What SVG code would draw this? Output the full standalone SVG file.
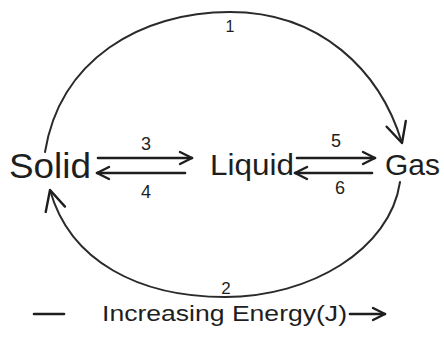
<svg xmlns="http://www.w3.org/2000/svg" width="444" height="353" viewBox="0 0 444 353">
<style>
.t{font-family:"Liberation Sans",Arial,sans-serif;fill:#1e1e1e}
.ln{fill:none;stroke:#2a2a2a;stroke-width:2;stroke-linecap:round}
.ar{fill:none;stroke:#1e1e1e;stroke-width:2.6;stroke-linecap:round}
</style>
<defs>
<marker id="v" viewBox="0 0 16 16" refX="14" refY="8" markerWidth="16" markerHeight="16" markerUnits="userSpaceOnUse" orient="auto">
<path d="M2,2 L14,8 L2,14" fill="none" stroke="#1e1e1e" stroke-width="2.4" stroke-linecap="round" stroke-linejoin="round"/>
</marker>
<marker id="vb" viewBox="0 0 24 24" refX="22" refY="12" markerWidth="24" markerHeight="24" markerUnits="userSpaceOnUse" orient="auto">
<path d="M2,2 L22,12 L2,22" fill="none" stroke="#1e1e1e" stroke-width="2.4" stroke-linecap="round" stroke-linejoin="round"/>
</marker>
</defs>
<rect width="444" height="353" fill="#fff"/>
<g id="connectors">
<path class="ln" d="M45,152 C60,60 140,12 230,12 C320,12 380,70 402,143" marker-end="url(#vb)"/>
<text class="t" x="230" y="32" font-size="16" text-anchor="middle">1</text>
<path class="ln" d="M400,182 C390,250 310,297 225,297 C140,297 70,262 50,190" marker-end="url(#vb)"/>
<text class="t" x="226" y="294" font-size="17" text-anchor="middle">2</text>
<path class="ar" d="M98,158 L192,158" marker-end="url(#v)"/>
<text class="t" x="146" y="150" font-size="18" text-anchor="middle">3</text>
<path class="ar" d="M185,173 L97,173" marker-end="url(#v)"/>
<text class="t" x="146" y="198" font-size="18" text-anchor="middle">4</text>
<path class="ar" d="M297,158 L375,158" marker-end="url(#v)"/>
<text class="t" x="336" y="147" font-size="18" text-anchor="middle">5</text>
<path class="ar" d="M372,173 L295,173" marker-end="url(#v)"/>
<text class="t" x="340" y="194" font-size="18" text-anchor="middle">6</text>
</g>
<g id="solid"><text class="t" x="9" y="178" font-size="35" textLength="82" lengthAdjust="spacingAndGlyphs">Solid</text></g>
<g id="liquid"><text class="t" x="210" y="175" font-size="30" textLength="84" lengthAdjust="spacingAndGlyphs">Liquid</text></g>
<g id="gas"><text class="t" x="385" y="175" font-size="30" textLength="55" lengthAdjust="spacingAndGlyphs">Gas</text></g>
<g id="energy-axis">
<path class="ar" d="M34,314 L64,314"/>
<text class="t" x="102" y="321" font-size="22" textLength="245" lengthAdjust="spacingAndGlyphs">Increasing Energy(J)</text>
<path class="ar" d="M350,314 L385,314" marker-end="url(#v)"/>
</g>
</svg>
